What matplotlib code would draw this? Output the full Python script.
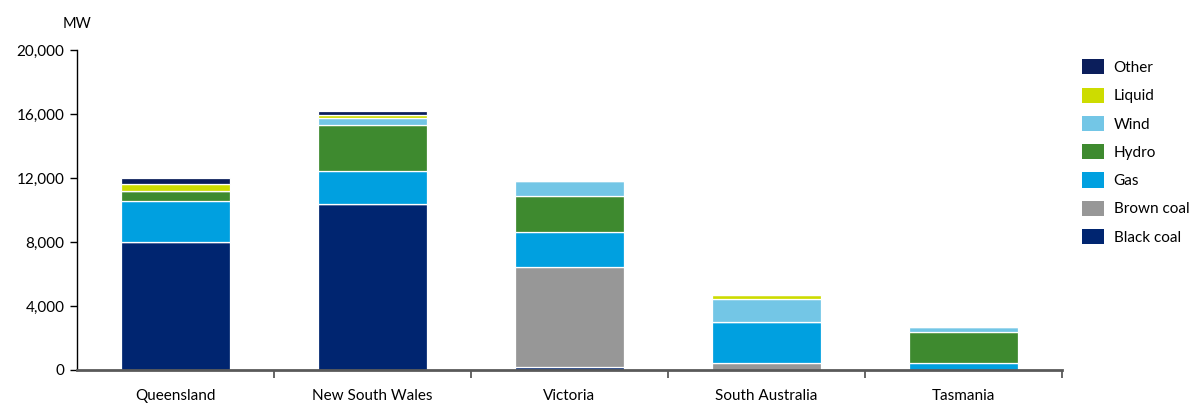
import matplotlib.pyplot as plt
from matplotlib.ticker import FuncFormatter, FixedLocator

plt.rcParams['font.family'] = ['Lato', 'DejaVu Sans']

regions = ['Queensland', 'New South Wales', 'Victoria', 'South Australia', 'Tasmania']

# installed capacity by fuel, MW
black_coal = [8020, 10390, 190, 0, 0]
brown_coal = [0, 0, 6270, 460, 0]
gas = [2520, 2030, 2150, 2540, 420]
hydro = [660, 2910, 2280, 0, 1930]
wind = [15, 400, 900, 1420, 340]
liquid = [420, 210, 0, 270, 0]
other = [360, 230, 0, 0, 0]

fuels = ['Black coal', 'Brown coal', 'Gas', 'Hydro', 'Wind', 'Liquid', 'Other']
series = [black_coal, brown_coal, gas, hydro, wind, liquid, other]
colours = ['#002570', '#979797', '#00a0e0', '#3e8a2f', '#73c6e6', '#cddc00', '#0b1e5b']

fig = plt.figure(figsize=(12.02, 4.03), dpi=100)
ax = fig.add_axes([0.064, 0.082, 0.8195, 0.794])

x = list(range(len(regions)))
bottom = [0] * len(regions)
handles = []
for name, vals, col in zip(fuels, series, colours):
    b = ax.bar(x, vals, 0.55, bottom=bottom, color=col, edgecolor='white',
               linewidth=0.9, label=name)
    handles.append(b)
    bottom = [p + q for p, q in zip(bottom, vals)]

ax.set_xlim(-0.5, len(regions) - 0.5)
ax.set_ylim(0, 20000)
ax.set_yticks([0, 4000, 8000, 12000, 16000, 20000])
ax.yaxis.set_major_formatter(FuncFormatter(lambda v, p: f'{int(v):,}'))

ax.set_xticks(x)
ax.set_xticklabels(regions)
ax.xaxis.set_minor_locator(FixedLocator([0.5, 1.5, 2.5, 3.5, 4.5]))
ax.tick_params(axis='x', which='major', length=0, pad=14, labelsize=11)
ax.tick_params(axis='x', which='minor', length=6, width=1.3, color='#595959')
ax.tick_params(axis='y', length=5, width=1.0, labelsize=11, pad=4)

for s in ['top', 'right']:
    ax.spines[s].set_visible(False)
ax.spines['left'].set_linewidth(1.0)
ax.spines['bottom'].set_color('#595959')
ax.spines['bottom'].set_linewidth(2.0)

fig.text(0.052, 0.94, 'MW', fontsize=10.5, ha='left', va='center')

leg = fig.legend(handles[::-1], fuels[::-1], loc='upper left',
                 bbox_to_anchor=(0.8953, 0.868), frameon=False, fontsize=11,
                 handlelength=1.4, handleheight=1.15, handletextpad=0.65,
                 labelspacing=0.82, borderaxespad=0)
for h in leg.legend_handles:
    h.set_edgecolor('none')

fig.savefig('out.png', dpi=100)
